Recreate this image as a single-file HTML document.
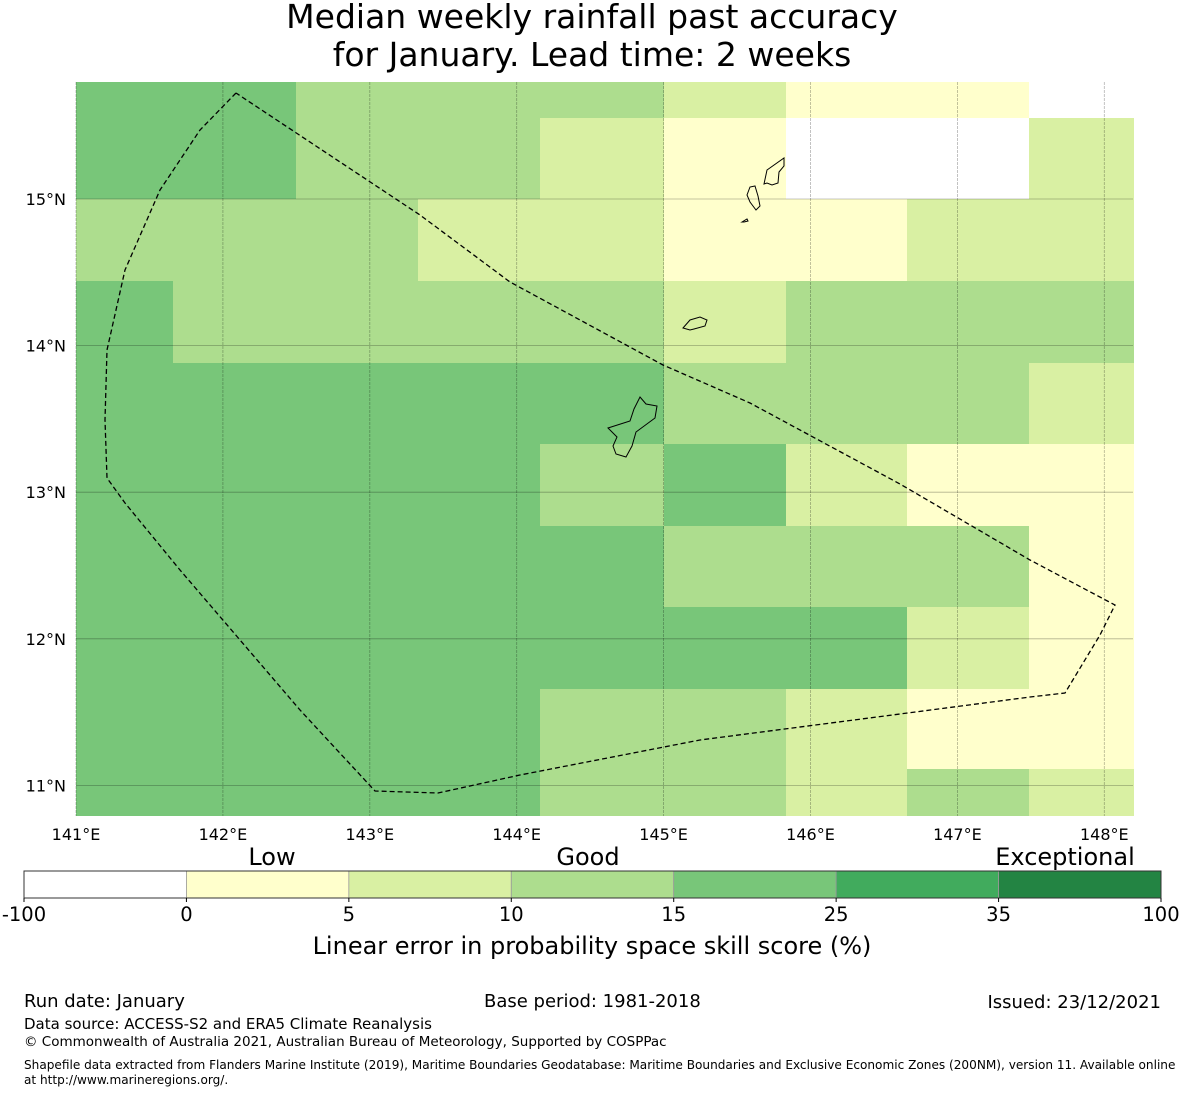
<!DOCTYPE html>
<html><head><meta charset="utf-8">
<style>
body{margin:0;background:#fff;width:1185px;height:1095px;overflow:hidden;font-family:"DejaVu Sans","Liberation Sans",sans-serif;}
svg{position:absolute;left:0;top:0}
</style></head>
<body>
<svg id="chart" width="1185" height="1095">
<text x="592" y="28" text-anchor="middle" font-size="33">Median weekly rainfall past accuracy</text>
<text x="592" y="66" text-anchor="middle" font-size="33">for January. Lead time: 2 weeks</text>
<g id="cells"></g>
<g id="grid"></g>
<g id="shapes"></g>
<g id="ticks"></g>
<g id="cbar"></g>
<g font-size="18">
<text x="24" y="1007">Run date: January</text>
<text x="484" y="1007">Base period: 1981-2018</text>
<text x="1161" y="1008" text-anchor="end">Issued: 23/12/2021</text>
</g>
<text x="24" y="1029" font-size="15">Data source: ACCESS-S2 and ERA5 Climate Reanalysis</text>
<text x="24" y="1046" font-size="13.5">© Commonwealth of Australia 2021, Australian Bureau of Meteorology, Supported by COSPPac</text>
<text x="24" y="1069" font-size="12.1">Shapefile data extracted from Flanders Marine Institute (2019), Maritime Boundaries Geodatabase: Maritime Boundaries and Exclusive Economic Zones (200NM), version 11. Available online</text>
<text x="24" y="1084" font-size="12.1">at http://www.marineregions.org/.</text>
</svg>
<script>
const NS='http://www.w3.org/2000/svg';
// column edges (longitude) and row edges (latitude)
const lonEdges=[141.0,141.66,142.5,143.33,144.16,145.0,145.83,146.66,147.49,148.2];
const latEdges=[15.8,15.55,15.0,14.44,13.88,13.33,12.77,12.22,11.66,11.11,10.79];
// skill score values per row (top to bottom), per column
const rowA=[20,20,12,12,12,7,2,2,-5];
const rowB=[20,20,12,12,7,2,-5,-5,7];
const rowC=[12,12,12,7,7,2,2,7,7];
const rowD=[20,12,12,12,12,7,12,12,12];
const rowE=[20,20,20,20,20,12,12,12,7];
const rowF=[20,20,20,20,12,20,7,2,2];
const rowG=[20,20,20,20,20,12,12,12,2];
const rowH=[20,20,20,20,20,20,20,7,2];
const rowI=[20,20,20,20,12,12,7,2,2];
const rowJ=[20,20,20,20,12,12,7,12,7];
const values=[rowA,rowB,rowC,rowD,rowE,rowF,rowG,rowH,rowI,rowJ];
const bounds=[-100,0,5,10,15,25,35,100];
const colors=['#ffffff','#ffffcc','#d9f0a3','#addd8e','#78c679','#41ab5d','#238443'];
const xTicks=[141,142,143,144,145,146,147,148];
const yTicks=[15,14,13,12,11];
const catLabels=['Low','Good','Exceptional'];

const X=lon=>76+(lon-141)*146.9;
const Y=lat=>199+(15-lat)*146.6;
function colorOf(v){for(let i=0;i<bounds.length-1;i++){if(v<bounds[i+1])return colors[i];}return colors[colors.length-1];}
function mk(tag,attrs,parent){const e=document.createElementNS(NS,tag);for(const k in attrs)e.setAttribute(k,attrs[k]);parent.appendChild(e);return e;}

const cells=document.getElementById('cells');
values.forEach((row,r)=>row.forEach((v,c)=>{
  const x0=Math.round(X(lonEdges[c])),x1=Math.round(X(lonEdges[c+1]));
  const y0=Math.round(Y(latEdges[r])),y1=Math.round(Y(latEdges[r+1]));
  const e=mk('rect',{x:x0,y:y0,width:x1-x0,height:y1-y0,fill:colorOf(v)},cells);
  
  
}));

const grid=document.getElementById('grid');
const ticks=document.getElementById('ticks');
const mapTop=82,mapBot=816,mapLeft=76,mapRight=1133;
xTicks.forEach(t=>{
  const x=X(t);
  const l=mk('line',{x1:x,x2:x,y1:mapTop,y2:mapBot,stroke:'#000','stroke-opacity':0.3,'stroke-width':0.8,'stroke-dasharray':'3,1'},grid);
  
  
  const tx=mk('text',{x:x,y:840,'text-anchor':'middle','font-size':16},ticks);
  tx.textContent=t+'°E';
  
  
});
yTicks.forEach(t=>{
  const y=Y(t);
  const l=mk('line',{x1:mapLeft,x2:mapRight,y1:y,y2:y,stroke:'#000','stroke-opacity':0.3,'stroke-width':0.8},grid);
  
  
  const tx=mk('text',{x:66,y:y+6,'text-anchor':'end','font-size':16},ticks);
  tx.textContent=t+'°N';
  
  
});

const shapes=document.getElementById('shapes');
const eez=mk('polyline',{points:'236,93 200,130 160,190 125,270 107,350 105,420 107,478 125,503 180,570 300,710 375,791 438,793 520,775 700,740 900,714 1030,697 1065,693 1100,635 1115,605 1030,560 900,484 750,403 663,365 510,282 420,215 236,93',fill:'none',stroke:'#000','stroke-width':1.3,'stroke-dasharray':'5,3'},shapes);


const isl=[
 ['guam','640,397 646,404 657,406 655,418 636,432 632,446 626,457 616,454 613,446 617,437 608,428 630,421 634,409'],
 ['rota','683,328 690,320 700,317 707,320 705,326 694,329 690,330'],
 ['tinian','755,186 758,196 760,206 756,210 750,202 747,195 750,187'],
 ['saipan','767,170 784,158 784,166 779,172 778,183 772,185 767,183 764,184'],
 ['aguijan','742,222 747,219 748,221 744,222']];
isl.forEach(([n,p])=>{const e=mk('polygon',{points:p,fill:'none',stroke:'#000','stroke-width':1},shapes);
 
 });

const cb=document.getElementById('cbar');
const cbX=24,cbW=1137,cbY=871,cbH=27,seg=cbW/colors.length;
colors.forEach((c,i)=>{
  const e=mk('rect',{x:cbX+i*seg,y:cbY,width:seg,height:cbH,fill:c,stroke:'#999','stroke-width':0.8},cb);
  
  
});
const fr=mk('rect',{x:cbX,y:cbY,width:cbW,height:cbH,fill:'none',stroke:'#333','stroke-width':1},cb);


bounds.forEach((b,i)=>{
  const x=cbX+i*seg;
  mk('line',{x1:x,x2:x,y1:cbY+cbH,y2:cbY+cbH+4,stroke:'#000'},cb);
  const t=mk('text',{x:x,y:921,'text-anchor':'middle','font-size':19.5},cb);
  t.textContent=b;
  
  
});
const catX=[272,588,1065];
catLabels.forEach((s,i)=>{
  const t=mk('text',{x:catX[i],y:865,'text-anchor':'middle','font-size':24},cb);
  t.textContent=s;
  
  
});
const ct=mk('text',{x:592,y:954,'text-anchor':'middle','font-size':24},cb);
ct.textContent='Linear error in probability space skill score (%)';


</script>
</body></html>
